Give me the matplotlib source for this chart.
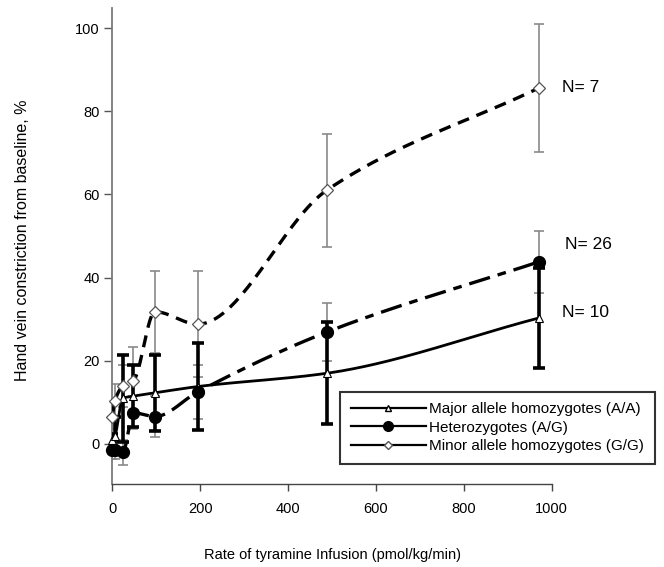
import numpy as np
import matplotlib
matplotlib.use("Agg")
import matplotlib.pyplot as plt
from matplotlib.lines import Line2D
from matplotlib.legend_handler import HandlerLine2D

plt.rcParams['font.family'] = ['Liberation Sans', 'DejaVu Sans']

# ---- data ----
dose = [0, 6, 24, 48, 97, 194, 488, 971]

aa_mean = [1.0, 2.0, 11.0, 11.5, 12.3, 13.8, 17.0, 30.3]
aa_err = [1.5, 4.5, 10.5, 7.5, 9.2, 10.5, 12.3, 12.0]

ag_mean = [-1.5, -1.5, -2.0, 7.5, 6.6, 12.5, 26.9, 43.8]
ag_err = [2.0, 2.0, 3.0, 4.0, 5.0, 6.5, 7.0, 7.5]

gg_mean = [6.6, 10.4, 13.9, 15.2, 31.8, 28.8, 61.0, 85.6]
gg_err = [3.0, 4.0, 5.0, 8.2, 9.9, 12.8, 13.6, 15.3]

labels = ["Major allele homozygotes (A/A)", "Heterozygotes (A/G)",
          "Minor allele homozygotes (G/G)"]
n_labels = ["N= 10", "N= 26", "N= 7"]

xticks = [0, 200, 400, 600, 800, 1000]
yticks = [0, 20, 40, 60, 80, 100]


def pchip(x, y, xs):
    x = np.asarray(x, float)
    y = np.asarray(y, float)
    h = np.diff(x)
    d = np.diff(y) / h
    n = len(x)
    m = np.zeros(n)
    for k in range(1, n - 1):
        if d[k - 1] * d[k] > 0:
            w1 = 2 * h[k] + h[k - 1]
            w2 = h[k] + 2 * h[k - 1]
            m[k] = (w1 + w2) / (w1 / d[k - 1] + w2 / d[k])
    m[0] = d[0]
    m[-1] = d[-1]
    out = np.empty_like(xs)
    for i, xv in enumerate(xs):
        k = min(max(np.searchsorted(x, xv) - 1, 0), n - 2)
        t = (xv - x[k]) / h[k]
        h00 = 2 * t**3 - 3 * t**2 + 1
        h10 = t**3 - 2 * t**2 + t
        h01 = -2 * t**3 + 3 * t**2
        h11 = t**3 - t**2
        out[i] = h00 * y[k] + h10 * h[k] * m[k] + h01 * y[k + 1] + h11 * h[k] * m[k + 1]
    return out


class MarkerRightHandler(HandlerLine2D):
    """Legend handle whose marker sits at ~70% of the handle line."""
    def get_xdata(self, legend, xdescent, ydescent, width, height, fontsize):
        xdata, _ = super().get_xdata(legend, xdescent, ydescent, width, height, fontsize)
        return xdata, np.array([-xdescent + 0.70 * width])


fig = plt.figure(figsize=(6.64, 5.67), dpi=100)
W, H = 664, 567
x0, x1 = 112.3, 551.7
ytop, ybot = 8.5, 483.5
ax = fig.add_axes([x0 / W, (H - ybot) / H, (x1 - x0) / W, (ybot - ytop) / H])
ax.set_xlim(0, 1000)
ax.set_ylim(-9.5, 104.7)

xs = np.linspace(dose[0], dose[-1], 600)
grey = '#8a8a8a'

# error bars
ax.errorbar(dose, gg_mean, yerr=gg_err, fmt='none', ecolor=grey, elinewidth=1.2,
            capsize=3.5, capthick=1.2, zorder=2)
ax.errorbar(dose, ag_mean, yerr=ag_err, fmt='none', ecolor=grey, elinewidth=1.2,
            capsize=3.5, capthick=1.2, zorder=2)
ax.errorbar(dose, aa_mean, yerr=aa_err, fmt='none', ecolor='black', elinewidth=2.6,
            capsize=4.5, capthick=2.6, zorder=3)

# smoothed curves
ax.plot(xs, pchip(dose, aa_mean, xs), color='black', lw=2.0, zorder=4)
ax.plot(xs, pchip(dose, ag_mean, xs), color='black', lw=2.4,
        linestyle=(0, (6.5, 2.4, 2.6, 2.4)), zorder=4)
ax.plot(xs, pchip(dose, gg_mean, xs), color='black', lw=2.4,
        linestyle=(0, (3.6, 2.4)), zorder=4)

# markers
ax.plot(dose, aa_mean, linestyle='none', marker='^', ms=5.5, mfc='white', mec='black',
        mew=0.8, zorder=5, clip_on=False)
ax.plot(dose, ag_mean, linestyle='none', marker='o', ms=8.5, mfc='black', mec='black',
        zorder=5, clip_on=False)
ax.plot(dose, gg_mean, linestyle='none', marker='D', ms=6, mfc='white', mec='#555555',
        mew=0.9, zorder=6, clip_on=False)

# N labels
ax.text(dose[-1] + 52, aa_mean[-1] + 1.2, n_labels[0], fontsize=12.5, va='center', ha='left')
ax.text(dose[-1] + 60, ag_mean[-1] + 4.2, n_labels[1], fontsize=12.5, va='center', ha='left')
ax.text(dose[-1] + 52, gg_mean[-1], n_labels[2], fontsize=12.5, va='center', ha='left')

# axes styling
for s in ['top', 'right']:
    ax.spines[s].set_visible(False)
ax.spines['left'].set_color('#7a7a7a')
ax.spines['bottom'].set_color('#444444')
ax.spines['left'].set_linewidth(1.3)
ax.spines['bottom'].set_linewidth(1.0)
ax.set_xticks(xticks)
ax.set_yticks(yticks)
ax.tick_params(axis='y', direction='out', length=6, width=1.0, colors='#555555',
               labelcolor='black', labelsize=10.5, pad=3)
ax.tick_params(axis='x', direction='out', length=5, width=1.0, colors='#444444',
               labelcolor='black', labelsize=10.5, pad=8)

ax.set_xlabel("Rate of tyramine Infusion (pmol/kg/min)", fontsize=10.5)
ax.set_ylabel("Hand vein constriction from baseline, %", fontsize=11.5)
ax.xaxis.set_label_coords(0.50, -0.136)
ax.yaxis.set_label_coords(-0.187, 0.513)

handles = [
    Line2D([], [], color='black', lw=1.6, marker='^', ms=5, mfc='white', mec='black'),
    Line2D([], [], color='black', lw=1.6, marker='o', ms=7, mfc='black'),
    Line2D([], [], color='black', lw=1.6, marker='D', ms=4.5, mfc='white', mec='#555555'),
]
leg = fig.legend(handles, labels, loc='upper right', bbox_to_anchor=(655 / W, (H - 391.7) / H),
                 fontsize=11, frameon=True, fancybox=False, handlelength=4.9,
                 handletextpad=0.25, borderpad=0.7, labelspacing=0.28, borderaxespad=0,
                 handler_map={Line2D: MarkerRightHandler(numpoints=1)})
leg.get_frame().set_edgecolor('black')
leg.get_frame().set_linewidth(1.5)

fig.savefig("out.png", dpi=100)
